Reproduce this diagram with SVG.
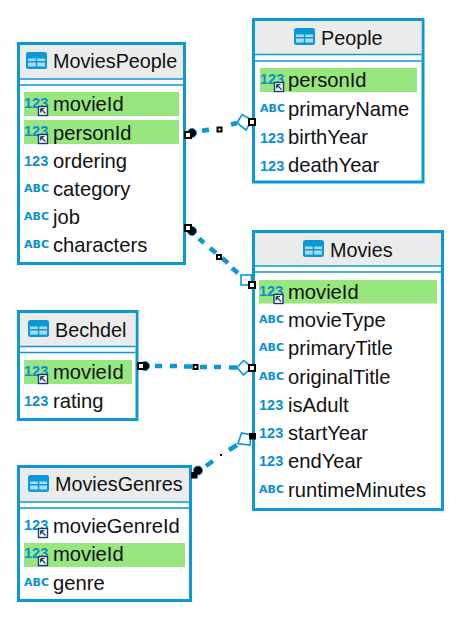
<svg xmlns="http://www.w3.org/2000/svg" width="461" height="625" viewBox="0 0 461 625">
<style>
.box{fill:#fff;stroke:#0a98d8;stroke-width:3}
.head{fill:#ebebeb}
.sep{stroke:#0a98d8;stroke-width:1.5;fill:none}
.hl{fill:#97e67e}
.t{font-family:"Liberation Sans",Arial,sans-serif;font-size:20.200px;fill:#111}
.h{font-family:"Liberation Sans",Arial,sans-serif;font-size:19.800px;fill:#111}
.ty{font-family:"Liberation Sans",Arial,sans-serif;font-size:14.500px;font-weight:700;fill:#0a8fd4}
.ab{font-family:"DejaVu Sans",sans-serif;font-size:11px;font-weight:700;fill:#0a8fd4}
.dash{stroke:#0a98d8;stroke-width:4.500;fill:none}
.sh{fill:#fff;stroke:#0a98d8;stroke-width:1.600}
.wh{fill:#fff;stroke:#000;stroke-width:2}
.bk{fill:#000}
.dot{fill:#000;stroke:#0a98d8;stroke-width:1}
</style>
<defs>
<g id="tbl"><rect x="0" y="0" width="21" height="17" rx="2.500" fill="#0a98d8"/><path d="M2 6.500H9.800V9H2ZM11.200 6.500H19V9H11.200ZM2 10.500H9.800V14.500H2ZM11.200 10.500H19V14.500H11.200Z" fill="#a8dcf3"/></g>
<g id="key"><rect x="0" y="0" width="9" height="9" fill="#fff" stroke="#1d3c68" stroke-width="1.400"/><path d="M2.200 2.200H6M2.200 2.200V6M2.200 2.200L7 7" stroke="#1d3c68" stroke-width="1.300" fill="none"/></g>
</defs>

<g id="MoviesPeople">
<rect class="box" x="18.500" y="43.500" width="166" height="220"/>
<rect class="head" x="20" y="45" width="163" height="33"/>
<path class="sep" d="M20 79H183M20 85H183"/>
<use href="#tbl" x="26" y="52"/>
<text class="h" x="53" y="68">MoviesPeople</text>
<rect class="hl" x="24" y="92" width="155" height="24"/>
<rect class="hl" x="24" y="120" width="155" height="24"/>
<text class="ty" x="24" y="108">123</text><use href="#key" x="38.500" y="106.500"/><text class="t" x="53" y="111">movieId</text>
<text class="ty" x="24" y="136">123</text><use href="#key" x="38.500" y="134.500"/><text class="t" x="53" y="139.500">personId</text>
<text class="ty" x="24" y="166">123</text><text class="t" x="53" y="168">ordering</text>
<text class="ab" x="24" y="192">ABC</text><text class="t" x="53" y="196">category</text>
<text class="ab" x="24" y="220">ABC</text><text class="t" x="53" y="224">job</text>
<text class="ab" x="24" y="248">ABC</text><text class="t" x="53" y="252">characters</text>
</g>

<g id="People">
<rect class="box" x="253.500" y="19.500" width="169.500" height="162.500"/>
<rect class="head" x="255" y="21" width="166.500" height="32.500"/>
<path class="sep" d="M255 54.500H421.500M255 61H421.500"/>
<use href="#tbl" x="294" y="28"/>
<text class="h" x="321" y="44.500">People</text>
<rect class="hl" x="260" y="68" width="157" height="24"/>
<text class="ty" x="260" y="84">123</text><use href="#key" x="274.500" y="82.500"/><text class="t" x="288" y="87">personId</text>
<text class="ab" x="260" y="112">ABC</text><text class="t" x="288" y="115.500">primaryName</text>
<text class="ty" x="260" y="143">123</text><text class="t" x="288" y="144">birthYear</text>
<text class="ty" x="260" y="171">123</text><text class="t" x="288" y="172">deathYear</text>
</g>

<g id="Movies">
<rect class="box" x="253.500" y="231.500" width="189" height="278"/>
<rect class="head" x="255" y="233" width="186" height="32"/>
<path class="sep" d="M255 266H441M255 272H441"/>
<use href="#tbl" x="303" y="240"/>
<text class="h" x="330" y="256.500">Movies</text>
<rect class="hl" x="259" y="280" width="178" height="23.500"/>
<text class="ty" x="259" y="296">123</text><use href="#key" x="274" y="294.500"/><text class="t" x="288" y="299">movieId</text>
<text class="ab" x="259" y="323">ABC</text><text class="t" x="288" y="327">movieType</text>
<text class="ab" x="259" y="351">ABC</text><text class="t" x="288" y="355">primaryTitle</text>
<text class="ab" x="259" y="380">ABC</text><text class="t" x="288" y="384">originalTitle</text>
<text class="ty" x="259" y="410">123</text><text class="t" x="288" y="412">isAdult</text>
<text class="ty" x="259" y="438">123</text><text class="t" x="288" y="440">startYear</text>
<text class="ty" x="259" y="466">123</text><text class="t" x="288" y="468">endYear</text>
<text class="ab" x="259" y="493">ABC</text><text class="t" x="288" y="497">runtimeMinutes</text>
</g>

<g id="Bechdel">
<rect class="box" x="18.500" y="311.500" width="118.500" height="108"/>
<rect class="head" x="20" y="313" width="115.500" height="32.500"/>
<path class="sep" d="M20 346.500H135.500M20 352.500H135.500"/>
<use href="#tbl" x="28" y="320"/>
<text class="h" x="55" y="336.500">Bechdel</text>
<rect class="hl" x="24" y="360" width="108" height="24"/>
<text class="ty" x="24" y="376">123</text><use href="#key" x="38.500" y="374.500"/><text class="t" x="53" y="379">movieId</text>
<text class="ty" x="24" y="406">123</text><text class="t" x="53" y="408">rating</text>
</g>

<g id="MoviesGenres">
<rect class="box" x="18.500" y="466.500" width="172" height="134"/>
<rect class="head" x="20" y="468" width="169" height="33"/>
<path class="sep" d="M20 502H189M20 508H189"/>
<use href="#tbl" x="28" y="475"/>
<text class="h" x="55" y="491">MoviesGenres</text>
<rect class="hl" x="24" y="543" width="161" height="24"/>
<text class="ty" x="24" y="530">123</text><use href="#key" x="38.500" y="528.500"/><text class="t" x="53" y="533">movieGenreId</text>
<text class="ty" x="24" y="558">123</text><use href="#key" x="38.500" y="556.500"/><text class="t" x="53" y="561">movieId</text>
<text class="ab" x="24" y="586">ABC</text><text class="t" x="53" y="590">genre</text>
</g>

<g id="connectors">
<circle class="dot" cx="192" cy="133" r="4.500"/>
<path class="dash" d="M202 131L209 129.500M231 124.500L237 123"/>
<path class="sh" d="M237 123L242 114.500L252 120L246 130Z"/>
<rect class="wh" x="217.500" y="127.500" width="4" height="4"/>
<rect class="wh" x="185" y="132" width="6" height="6"/>
<rect class="wh" x="249" y="119" width="6" height="6"/>

<circle class="dot" cx="192" cy="231" r="4.500"/>
<path class="dash" d="M199 238.500L204 243M210 248L216 253M222 258L228 263M232 268L238 273"/>
<rect class="sh" x="241" y="275" width="10.500" height="10"/>
<rect class="wh" x="217" y="255" width="4" height="4"/>
<rect class="wh" x="185" y="225" width="6" height="6"/>
<rect class="wh" x="249" y="282" width="6" height="6"/>

<circle class="dot" cx="145" cy="366" r="4.500"/>
<path class="dash" d="M155 366H162M170 366H177M184 366.500H192M200 367H207M214 367H221M229 367.500H237"/>
<path class="sh" d="M237 367.500L243.500 360.500L252 367L243.500 375Z"/>
<rect class="wh" x="193.500" y="365" width="4" height="4"/>
<rect class="wh" x="138" y="363" width="6" height="6"/>
<rect class="wh" x="249" y="365" width="6" height="6"/>

<circle class="dot" cx="198" cy="470.500" r="4.500"/>
<path class="dash" d="M206 466L213 461M229 450L237 445"/>
<path class="sh" d="M238 443.500L241.500 433L251 435L250 445Z"/>
<rect class="bk" x="220" y="454" width="2" height="2"/>
<rect class="bk" x="191" y="472" width="6.500" height="6.500"/>
<rect class="bk" x="249" y="433" width="7" height="6.500"/>
</g>
</svg>
